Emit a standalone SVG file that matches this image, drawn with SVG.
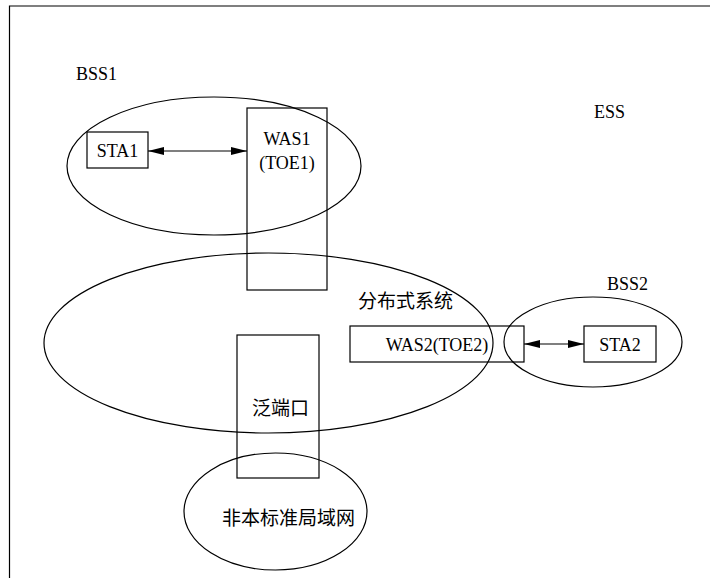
<svg xmlns="http://www.w3.org/2000/svg" width="710" height="578" viewBox="0 0 710 578">
<style>
.shape{fill:none;stroke:#000;stroke-width:1.2}
.t{font-family:'Liberation Serif','Times New Roman',Tinos,'DejaVu Serif',serif;font-size:18px;fill:#000}
.c{font-family:'Noto Sans CJK SC','Noto Sans',sans-serif;font-size:19px;fill:#000}
.ln{stroke:#000;stroke-width:1.2;fill:none}
</style>
<defs>
<marker id="ah" viewBox="0 0 16 8" refX="16" refY="4" markerWidth="16" markerHeight="8" markerUnits="userSpaceOnUse" orient="auto-start-reverse">
<path d="M0,0 L16,4 L0,8 Z" fill="#000"/>
</marker>
</defs>
<rect width="710" height="578" fill="#fff"/>
<g id="frame">
<path class="ln" d="M9.5,578 V6 H710" stroke-width="1.5"/>
</g>
<g id="ess"><text class="t" x="594" y="118">ESS</text></g>
<g id="bss1">
<ellipse class="shape" cx="214" cy="166" rx="147" ry="69"/>
<text class="t" x="76" y="80">BSS1</text>
</g>
<g id="ds">
<ellipse class="shape" cx="268.5" cy="343" rx="224.5" ry="90"/>
<text class="c" x="358" y="308">分布式系统</text>
</g>
<g id="bss2">
<ellipse class="shape" cx="593" cy="342" rx="89" ry="45"/>
<text class="t" x="607" y="290">BSS2</text>
</g>
<g id="lan">
<ellipse class="shape" cx="275.5" cy="511.5" rx="91.5" ry="58.5"/>
<text class="c" x="222" y="525">非本标准局域网</text>
</g>
<g id="sta1">
<rect class="shape" x="87" y="132" width="61" height="36"/>
<text class="t" x="117.5" y="157" text-anchor="middle">STA1</text>
</g>
<g id="was1">
<rect class="shape" x="247" y="108" width="80" height="182"/>
<text class="t" x="287" y="145" text-anchor="middle">WAS1</text>
<text class="t" x="287" y="169" text-anchor="middle">(TOE1)</text>
</g>
<g id="was2">
<rect class="shape" x="350" y="326" width="174" height="36"/>
<text class="t" x="437" y="351" text-anchor="middle">WAS2(TOE2)</text>
</g>
<g id="sta2">
<rect class="shape" x="584" y="326" width="72" height="36"/>
<text class="t" x="620" y="351" text-anchor="middle">STA2</text>
</g>
<g id="portal">
<rect class="shape" x="237" y="335" width="82" height="143"/>
<text class="c" x="252" y="415">泛端口</text>
</g>
<g id="connectors">
<line class="ln" x1="148" y1="151" x2="247" y2="151" marker-start="url(#ah)" marker-end="url(#ah)"/>
<line class="ln" x1="524" y1="344" x2="584" y2="344" marker-start="url(#ah)" marker-end="url(#ah)"/>
</g>
</svg>
